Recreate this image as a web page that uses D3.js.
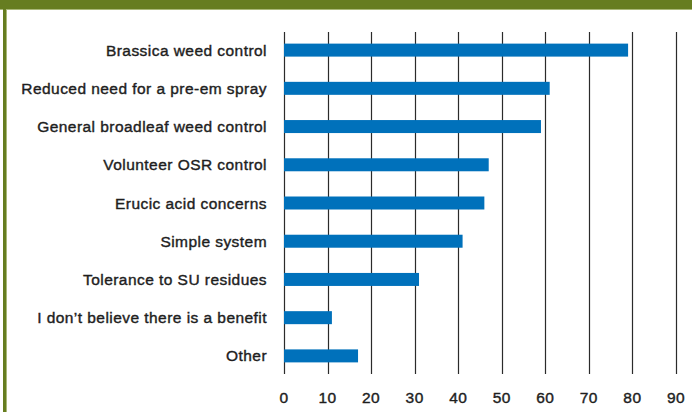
<!DOCTYPE html>
<html>
<head>
<meta charset="utf-8">
<script src="https://cdn.jsdelivr.net/npm/d3@7"></script>
<style>
  html, body { margin: 0; padding: 0; background: #fff; }
  svg { display: block; }
  text { font-family: "Liberation Sans", Arial, sans-serif; fill: #1e1e1e; stroke: #1e1e1e; stroke-width: 0.4px; letter-spacing: 0.45px; }
</style>
</head>
<body>
<svg id="chart" width="692" height="412"></svg>
<script>
// Survey responses: perceived benefits (% of respondents)
const categories = [
  "Brassica weed control",
  "Reduced need for a pre-em spray",
  "General broadleaf weed control",
  "Volunteer OSR control",
  "Erucic acid concerns",
  "Simple system",
  "Tolerance to SU residues",
  "I don\u2019t believe there is a benefit",
  "Other"
];
const values = [79, 61, 59, 47, 46, 41, 31, 11, 17];
const xTicks = [0, 10, 20, 30, 40, 50, 60, 70, 80, 90];

const svg = d3.select("#chart");
const W = 692, H = 412;

// Frame: green header band and left rule
const green = "#667d20";
svg.append("rect").attr("x", 0).attr("y", 0).attr("width", W).attr("height", 9).attr("fill", green);
svg.append("rect").attr("x", 0).attr("y", 9).attr("width", W).attr("height", 1).attr("fill", "#a9b878");
svg.append("rect").attr("x", 3).attr("y", 9).attr("width", 3).attr("height", H - 9).attr("fill", green);
svg.append("rect").attr("x", 6).attr("y", 10).attr("width", 1).attr("height", H - 10).attr("fill", "#a9b878");

const x = d3.scaleLinear().domain([0, 90]).range([284, 676]);
const y = d3.scaleBand().domain(categories).range([31, 375]).paddingInner(0.66).paddingOuter(0.33);

// Vertical grid lines at each tick
svg.append("g")
  .selectAll("line")
  .data(xTicks)
  .join("line")
  .attr("x1", d => Math.round(x(d)) + 0.5)
  .attr("x2", d => Math.round(x(d)) + 0.5)
  .attr("y1", 32)
  .attr("y2", 374)
  .attr("stroke", "#2b2b2b")
  .attr("stroke-width", 1.2);

// Bars
svg.append("g")
  .selectAll("rect")
  .data(values)
  .join("rect")
  .attr("x", x(0))
  .attr("y", (d, i) => y(categories[i]))
  .attr("width", d => x(d) - x(0))
  .attr("height", y.bandwidth())
  .attr("fill", "#0071bb");

// Category labels
svg.append("g")
  .selectAll("text")
  .data(categories)
  .join("text")
  .attr("x", 267)
  .attr("y", d => y(d) + y.bandwidth() / 2)
  .attr("dy", "0.36em")
  .attr("text-anchor", "end")
  .attr("font-size", 15.5)
  .text(d => d);

// X tick labels
svg.append("g")
  .selectAll("text")
  .data(xTicks)
  .join("text")
  .attr("x", d => x(d))
  .attr("y", 397)
  .attr("dy", "0.36em")
  .attr("text-anchor", "middle")
  .attr("font-size", 15.5)
  .text(d => d);
</script>
</body>
</html>
